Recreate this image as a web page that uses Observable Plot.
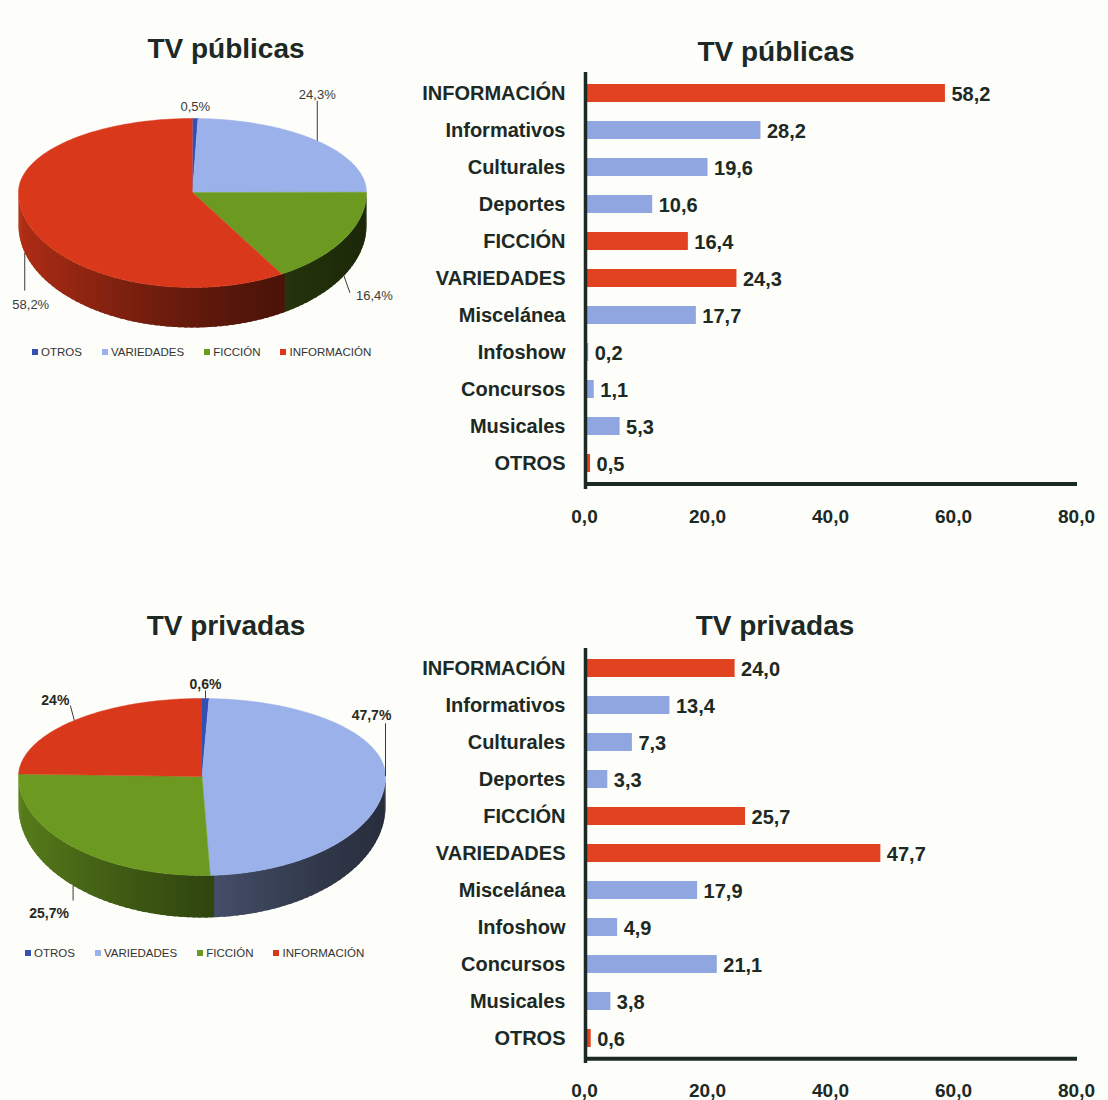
<!DOCTYPE html>
<html><head><meta charset="utf-8">
<script src="https://cdn.jsdelivr.net/npm/d3@7"></script>
<script src="https://cdn.jsdelivr.net/npm/@observablehq/plot@0.6"></script>
<style>
body{margin:0;background:#fdfdf9;}
#root{position:relative;width:1108px;height:1100px;overflow:hidden;font-family:"Liberation Sans",Arial,sans-serif;color:#1c2925;background:#fdfdf9;}
.title{position:absolute;font-weight:bold;font-size:28px;white-space:nowrap;transform:translate(-50%,-50%);line-height:1;}
.legend{position:absolute;font-size:11.5px;color:#333;white-space:nowrap;display:flex;align-items:center;line-height:14px;}
.legend .item{display:inline-flex;align-items:center;margin-right:20px;}
.legend i{display:inline-block;width:6px;height:6px;margin-right:3px;}
svg{overflow:visible;}
</style></head><body><div id="root"></div>
<script>
// ---------- DATA ----------
const pieGroups = ["OTROS", "VARIEDADES", "FICCIÓN", "INFORMACIÓN"];
const piePublicas = [0.5, 24.3, 16.4, 58.2];
const pieLabelsPublicas = ["0,5%", "24,3%", "16,4%", "58,2%"];
const piePrivadas = [0.6, 47.7, 25.7, 24.0];
const pieLabelsPrivadas = ["0,6%", "47,7%", "25,7%", "24%"];
const barCategories = ["INFORMACIÓN", "Informativos", "Culturales", "Deportes", "FICCIÓN", "VARIEDADES", "Miscelánea", "Infoshow", "Concursos", "Musicales", "OTROS"];
const barIsGroup = [true, false, false, false, true, true, false, false, false, false, true];
const barPublicas = [58.2, 28.2, 19.6, 10.6, 16.4, 24.3, 17.7, 0.2, 1.1, 5.3, 0.5];
const barPrivadas = [24.0, 13.4, 7.3, 3.3, 25.7, 47.7, 17.9, 4.9, 21.1, 3.8, 0.6];
const xTicks = [0, 20, 40, 60, 80];
const titlePublicas = "TV públicas";
const titlePrivadas = "TV privadas";

// ---------- STYLE ----------
const pieColors = ["#3450b5", "#9bb1ea", "#6c9a21", "#d9381a"];
const RED = "#e1421f", BLUE = "#8fa6e1", AXIS = "#1b2a24", TEXT = "#1c2925";
const fmt = v => v.toFixed(1).replace(".", ",");
const root = document.getElementById("root");

function put(el, left, top) {
  el.style.position = "absolute";
  el.style.left = left + "px";
  el.style.top = top + "px";
  root.appendChild(el);
  return el;
}
function title(text, cx, cy) {
  const d = document.createElement("div");
  d.className = "title"; d.textContent = text;
  d.style.left = cx + "px"; d.style.top = cy + "px";
  root.appendChild(d);
}
function legend(left, cy) {
  const d = document.createElement("div");
  d.className = "legend";
  pieGroups.forEach((g, i) => {
    const s = document.createElement("span"); s.className = "item";
    const sw = document.createElement("i"); sw.style.background = pieColors[i];
    s.appendChild(sw); s.appendChild(document.createTextNode(g));
    d.appendChild(s);
  });
  d.style.left = left + "px"; d.style.top = (cy - 7) + "px";
  root.appendChild(d);
}

function barChart(values, L) {
  const data = barCategories.map((cat, i) => ({cat, value: values[i], group: barIsGroup[i]}));
  const step = (L.yLast - L.yFirst) / (barCategories.length - 1);
  return Plot.plot({
    width: 708, height: L.height,
    marginLeft: 187, marginRight: 29,
    marginTop: L.frameTop - L.top, marginBottom: L.top + L.height - L.frameBottom,
    x: {domain: [0, 80]},
    y: {domain: barCategories, range: [L.yFirst - step / 2 - L.top, L.yLast + step / 2 - L.top], paddingInner: 0.52, paddingOuter: 0.26},
    color: {type: "identity"},
    style: {background: "transparent", fontFamily: '"Liberation Sans", Arial, sans-serif', fontSize: "20px", fontWeight: "bold", color: TEXT},
    marks: [
      Plot.barX(data, {x: "value", y: "cat", fill: d => d.group ? RED : BLUE}),
      Plot.text(data, {x: "value", y: "cat", text: d => fmt(d.value), textAnchor: "start", dx: 6, dy: 1}),
      Plot.ruleX([0], {stroke: AXIS, strokeWidth: 3.5, dx: -2}),
      Plot.ruleY([barCategories[barCategories.length - 1]], {x1: 0, x2: 80, dx: -2, dy: step / 2 + 1.5, stroke: AXIS, strokeWidth: 4}),
      Plot.axisY({tickSize: 0, tickPadding: 22, label: null}),
      Plot.axisX({ticks: xTicks, tickFormat: fmt, tickSize: 0, tickPadding: 20, label: null, fontSize: 19, dx: -3})
    ]
  });
}

function pieChart(values, labels, L) {
  const kb = L.ryBack / L.rx, kf = L.ryFront / L.rx;
  const arcs = d3.pie().sort(null).value(d => d)(values);
  const depth = a => (L.dSide + (L.dFront - L.dSide) * Math.max(0, -Math.cos(a))) / L.rx;
  const rim = a => { const c = Math.cos(a); return [Math.sin(a), -c * (c > 0 ? kb : kf)]; };
  const faces = [], sides = [];
  const deg = Math.PI / 180;
  arcs.forEach((arc, i) => {
    const base = pieColors[i];
    const n = Math.max(2, Math.ceil((arc.endAngle - arc.startAngle) / deg));
    const id = "t" + i;
    faces.push({x: 0, y: 0, id, color: base});
    for (let k = 0; k <= n; k++) {
      const a = arc.startAngle + (arc.endAngle - arc.startAngle) * k / n;
      const [x, y] = rim(a);
      faces.push({x, y, id, color: base});
    }
    const s0 = Math.max(arc.startAngle, Math.PI / 2), s1 = Math.min(arc.endAngle, 3 * Math.PI / 2);
    if (s1 > s0) {
      const m = Math.max(1, Math.ceil((s1 - s0) / (2 * deg)));
      for (let k = 0; k < m; k++) {
        const a1 = s0 + (s1 - s0) * (k + 1) / m;
        const a0 = Math.max(Math.PI / 2, s0 + (s1 - s0) * k / m - (k > 0 || i > 0 ? 1.2 * deg : 0));
        const am = s0 + (s1 - s0) * (k + 0.5) / m;
        const col = d3.color(base).darker(2.2 + 1.6 * Math.sin(am)).formatHex();
        const sid = "s" + i + "_" + k;
        const steps = 4, pts = [];
        for (let j = 0; j <= steps; j++) pts.push(a0 + (a1 - a0) * j / steps);
        pts.forEach(a => { const p = rim(a); sides.push({x: p[0], y: p[1], id: sid, color: col}); });
        pts.slice().reverse().forEach(a => { const p = rim(a); sides.push({x: p[0], y: p[1] + depth(a), id: sid, color: col}); });
      }
    }
  });
  const lab = arcs.map((arc, i) => {
    const a = (arc.startAngle + arc.endAngle) / 2;
    const [x, y] = rim(a);
    const ay = Math.cos(a) < 0 ? y + depth(a) : y;
    const o = L.layout[i];
    return {x1: x, y1: ay, x2: x + o.lx / L.rx, y2: ay + o.ly / L.rx, text: labels[i], o};
  });
  const leaders = lab.filter(d => d.o.lx !== 0 || d.o.ly !== 0);
  const textMarks = lab.map(d => Plot.text([d], {x: "x2", y: "y2", text: "text", textAnchor: d.o.anchor, lineAnchor: d.o.line, dx: d.o.dx, dy: d.o.dy,
    fontSize: L.fontSize, fontWeight: L.fontWeight, fill: L.labelColor}));
  return Plot.plot({
    width: 400, height: L.height, margin: 0,
    x: {domain: [-1, 1], range: [L.cx - L.rx, L.cx + L.rx], axis: null},
    y: {domain: [-1, 1], range: [L.cy - L.top - L.rx, L.cy - L.top + L.rx], axis: null},
    color: {type: "identity"},
    style: {background: "transparent", fontFamily: '"Liberation Sans", Arial, sans-serif'},
    marks: [
      Plot.line(sides, {x: "x", y: "y", z: "id", fill: "color", stroke: "none", curve: "linear"}),
      Plot.line(faces, {x: "x", y: "y", z: "id", fill: "color", stroke: "color", strokeWidth: 0.5, curve: "linear"}),
      Plot.link(leaders, {x1: "x1", y1: "y1", x2: "x2", y2: "y2", stroke: "#3a3a3a", strokeWidth: 1}),
      ...textMarks
    ]
  });
}

// ---------- TOP ROW ----------
title(titlePublicas, 226, 49);
title(titlePublicas, 776, 52);
put(pieChart(piePublicas, pieLabelsPublicas, {
  top: 80, height: 260, cx: 192, cy: 192, rx: 174, ryBack: 74, ryFront: 95, dSide: 33, dFront: 40,
  fontSize: 13, fontWeight: "normal", labelColor: "#3b3b3b",
  layout: [
    {lx: 0, ly: 0, anchor: "middle", line: "bottom", dx: 0, dy: -8},
    {lx: 0, ly: -40, anchor: "middle", line: "bottom", dx: 0, dy: -2},
    {lx: 6, ly: 17, anchor: "start", line: "middle", dx: 6, dy: 3},
    {lx: 0, ly: 38, anchor: "middle", line: "top", dx: 6, dy: 9}
  ]
}), 0, 80);
legend(32, 352);
put(barChart(barPublicas, {top: 30, height: 510, frameTop: 72, frameBottom: 489, yFirst: 89, yLast: 467}), 400, 30);

// ---------- BOTTOM ROW ----------
title(titlePrivadas, 226, 626);
title(titlePrivadas, 775, 626);
put(pieChart(piePrivadas, pieLabelsPrivadas, {
  top: 660, height: 280, cx: 201.5, cy: 776, rx: 183.5, ryBack: 78, ryFront: 99, dSide: 30, dFront: 42,
  fontSize: 14, fontWeight: "bold", labelColor: "#2a2a1c",
  layout: [
    {lx: 0, ly: -8, anchor: "middle", line: "bottom", dx: 0, dy: -2},
    {lx: 0, ly: -53, anchor: "middle", line: "bottom", dx: -14, dy: -3},
    {lx: 0, ly: 15, anchor: "middle", line: "top", dx: -24, dy: 8},
    {lx: -4, ly: -15, anchor: "end", line: "middle", dx: -1, dy: -5}
  ]
}), 0, 660);
legend(25, 953);
put(barChart(barPrivadas, {top: 600, height: 500, frameTop: 648, frameBottom: 1063, yFirst: 665, yLast: 1041}), 400, 600);
</script>
</body></html>
